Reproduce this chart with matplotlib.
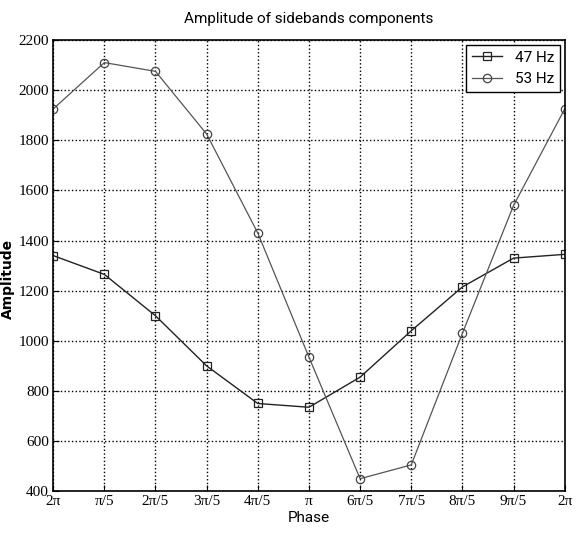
import numpy as np
import matplotlib
matplotlib.use("Agg")
import matplotlib.pyplot as plt

phase_labels = ['2π', 'π/5', '2π/5', '3π/5', '4π/5', 'π', '6π/5', '7π/5', '8π/5', '9π/5', '2π']
amp_47 = [1340, 1265, 1100, 900, 750, 735, 855, 1040, 1215, 1330, 1345]
amp_53 = [1925, 2110, 2075, 1825, 1430, 935, 450, 505, 1030, 1540, 1925]

plt.rcParams['font.family'] = ['Roboto', 'DejaVu Sans']
serif = ['Liberation Serif', 'DejaVu Serif']

fig = plt.figure(figsize=(5.78, 5.41), dpi=100)
ax = fig.add_axes([0.092, 0.092, 0.885, 0.834])

x = np.arange(len(phase_labels))
ax.plot(x, amp_47, color='#222222', lw=1.0, marker='s', ms=6,
        mfc='none', mec='#222222', mew=0.9, label='47 Hz')
ax.plot(x, amp_53, color='#555555', lw=0.9, marker='o', ms=6,
        mfc='none', mec='#444444', mew=0.9, label='53 Hz')

ax.set_xlim(0, 10)
ax.set_ylim(400, 2200)
ax.set_xticks(x)
ax.set_xticklabels(phase_labels, fontsize=11, family=serif)
ax.set_yticks(np.arange(400, 2201, 200))
ax.set_yticklabels([str(v) for v in range(400, 2201, 200)], fontsize=11, family=serif)
ax.tick_params(direction='in', length=4, pad=3)

ax.grid(True, color='black', linestyle=':', linewidth=1.0)

ax.set_title('Amplitude of sidebands components', fontsize=11, pad=12)
ax.set_xlabel('Phase', fontsize=11, labelpad=2)
ax.set_ylabel('Amplitude', fontsize=10, family='DejaVu Sans', fontweight='bold')
ax.yaxis.set_label_coords(-0.075, 0.47)

leg = ax.legend(loc='upper right', fontsize=11, frameon=True, fancybox=False,
                handlelength=2.0, borderaxespad=0.3, framealpha=1)
leg.get_frame().set_edgecolor('black')
leg.get_frame().set_linewidth(1.0)

for s in ax.spines.values():
    s.set_linewidth(1.2)

fig.savefig('out.png', dpi=100)
